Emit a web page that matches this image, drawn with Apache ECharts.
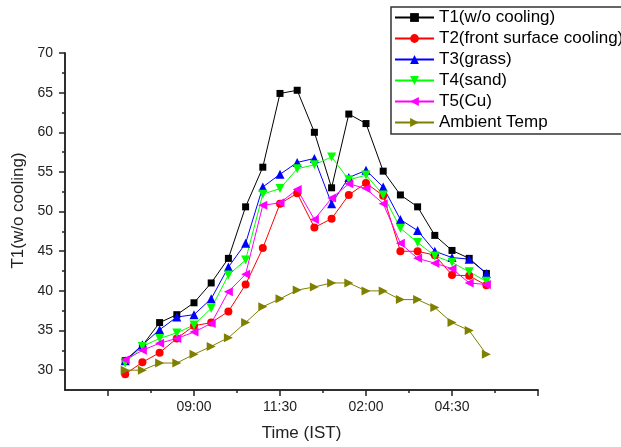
<!DOCTYPE html>
<html>
<head>
<meta charset="utf-8">
<script src="https://cdn.jsdelivr.net/npm/echarts@6/dist/echarts.min.js"></script>
<style>
html,body{margin:0;padding:0;background:#fff;}
#c{width:621px;height:447px;}
</style>
</head>
<body>
<div id="c"></div>
<script>
// Time of day in hours (7:00 ... 17:30)
const times = [7, 7.5, 8, 8.5, 9, 9.5, 10, 10.5, 11, 11.5, 12, 12.5, 13, 13.5, 14, 14.5, 15, 15.5, 16, 16.5, 17, 17.5];
const t1 = [31.2, 33.1, 36.0, 37.0, 38.5, 41.0, 44.1, 50.6, 55.6, 64.9, 65.3, 60.0, 53.0, 62.3, 61.1, 55.1, 52.1, 50.6, 47.0, 45.1, 44.1, 42.2];
const t2 = [29.5, 31.0, 32.2, 34.0, 35.6, 36.0, 37.4, 40.8, 45.4, 51.0, 52.3, 48.0, 49.1, 52.1, 53.6, 52.0, 45.0, 45.0, 44.5, 42.0, 41.9, 40.7];
const t3 = [31.2, 33.2, 35.1, 36.7, 37.0, 39.0, 43.0, 46.0, 53.1, 54.7, 56.2, 56.7, 51.0, 54.3, 55.2, 53.1, 49.0, 47.6, 45.0, 44.2, 44.0, 42.2];
const t4 = [30.9, 33.0, 34.0, 34.7, 35.7, 37.8, 42.0, 43.9, 52.2, 52.9, 55.4, 55.9, 56.9, 54.0, 54.6, 52.1, 47.9, 46.1, 44.4, 43.6, 42.4, 41.2];
const t5 = [31.3, 32.5, 33.4, 34.0, 34.8, 35.9, 39.9, 42.1, 50.8, 51.1, 52.8, 49.0, 51.7, 53.5, 52.9, 51.0, 46.0, 44.1, 43.5, 42.8, 41.0, 40.8];
const ambient = [30.0, 30.0, 30.9, 30.9, 32.0, 33.0, 34.1, 36.0, 38.0, 39.0, 40.1, 40.5, 41.0, 41.0, 40.0, 40.0, 38.9, 38.9, 37.9, 36.0, 35.0, 32.0];
const seriesNames = ['T1(w/o cooling)', 'T2(front surface cooling)', 'T3(grass)', 'T4(sand)', 'T5(Cu)', 'Ambient Temp'];
const xMajorTicks = [6.5, 9, 11.5, 14, 16.5, 19];
const xMinorTicks = [7.75, 10.25, 12.75, 15.25, 17.75];
const xLabelTicks = [9, 11.5, 14, 16.5];
const yMajorTicks = [30, 35, 40, 45, 50, 55, 60, 65, 70];
const yMinorTicks = [32.5, 37.5, 42.5, 47.5, 52.5, 57.5, 62.5, 67.5];

const FONT = '"Liberation Sans", Arial, sans-serif';
function fmtTime(v) {
  let h = Math.floor(v + 1e-9);
  const m = Math.round((v - h) * 60);
  if (h > 12) h -= 12;
  return String(h).padStart(2, '0') + ':' + String(m).padStart(2, '0');
}
function pairs(vals) { return times.map((t, i) => [t, vals[i]]); }

const styles = [
  { color: '#000000', symbol: 'rect', size: 7, rot: 0 },
  { color: '#ff0000', symbol: 'circle', size: 8, rot: 0 },
  { color: '#0000ff', symbol: 'triangle', size: 9, rot: 0 },
  { color: '#00ff00', symbol: 'triangle', size: 9, rot: 180 },
  { color: '#ff00ff', symbol: 'triangle', size: 9, rot: 90 },
  { color: '#808000', symbol: 'triangle', size: 9, rot: -90 }
];
const allVals = [t1, t2, t3, t4, t5, ambient];

const axisLine = { show: true, lineStyle: { color: '#222', width: 1.5 } };
const chart = echarts.init(document.getElementById('c'));
chart.setOption({
  animation: false,
  backgroundColor: '#fff',
  grid: { left: 65, top: 53, right: 83, bottom: 57, containLabel: false },
  legend: {
    orient: 'vertical',
    left: 391, top: 7,
    padding: [2, 20, 3, 3],
    itemWidth: 39, itemHeight: 11, itemGap: 4,
    borderColor: '#333', borderWidth: 1.5,
    backgroundColor: '#fff',
    textStyle: { fontFamily: FONT, fontSize: 17, color: '#000' },
    data: seriesNames
  },
  xAxis: [{
    type: 'value', min: 5.25, max: 19,
    name: 'Time (IST)', nameLocation: 'middle', nameGap: 35,
    nameTextStyle: { fontFamily: FONT, fontSize: 17, color: '#222' },
    axisLine: axisLine,
    axisTick: { show: true, length: 6, customValues: xMajorTicks, lineStyle: { color: '#222', width: 1.5 } },
    axisLabel: { customValues: xLabelTicks, formatter: fmtTime, margin: 10, fontFamily: FONT, fontSize: 14, color: '#222' },
    splitLine: { show: false }
  }, {
    type: 'value', min: 5.25, max: 19, position: 'bottom', gridIndex: 0,
    axisLine: axisLine,
    axisTick: { show: true, length: 3, customValues: xMinorTicks, lineStyle: { color: '#222', width: 1.5 } },
    axisLabel: { show: false },
    splitLine: { show: false }
  }],
  yAxis: [{
    type: 'value', min: 27.5, max: 70,
    name: 'T1(w/o cooling)', nameLocation: 'middle', nameGap: 32, nameRotate: 90,
    nameTextStyle: { fontFamily: FONT, fontSize: 17, color: '#222', padding: [0, 0, 0, 22] },
    axisLine: axisLine,
    axisTick: { show: true, length: 6, customValues: yMajorTicks, lineStyle: { color: '#222', width: 1.5 } },
    axisLabel: { customValues: yMajorTicks, margin: 12, fontFamily: FONT, fontSize: 14, color: '#222' },
    splitLine: { show: false }
  }, {
    type: 'value', min: 27.5, max: 70, position: 'left', gridIndex: 0,
    axisLine: axisLine,
    axisTick: { show: true, length: 3, customValues: yMinorTicks, lineStyle: { color: '#222', width: 1.5 } },
    axisLabel: { show: false },
    splitLine: { show: false }
  }],
  series: seriesNames.map((n, i) => ({
    name: n,
    type: 'line',
    xAxisIndex: 0, yAxisIndex: 0,
    data: pairs(allVals[i]),
    symbol: styles[i].symbol,
    symbolSize: styles[i].size,
    symbolRotate: styles[i].rot,
    showAllSymbol: true,
    lineStyle: { color: styles[i].color, width: 1 },
    itemStyle: { color: styles[i].color, borderWidth: 0 },
    emphasis: { disabled: true }
  }))
});
</script>
</body>
</html>
